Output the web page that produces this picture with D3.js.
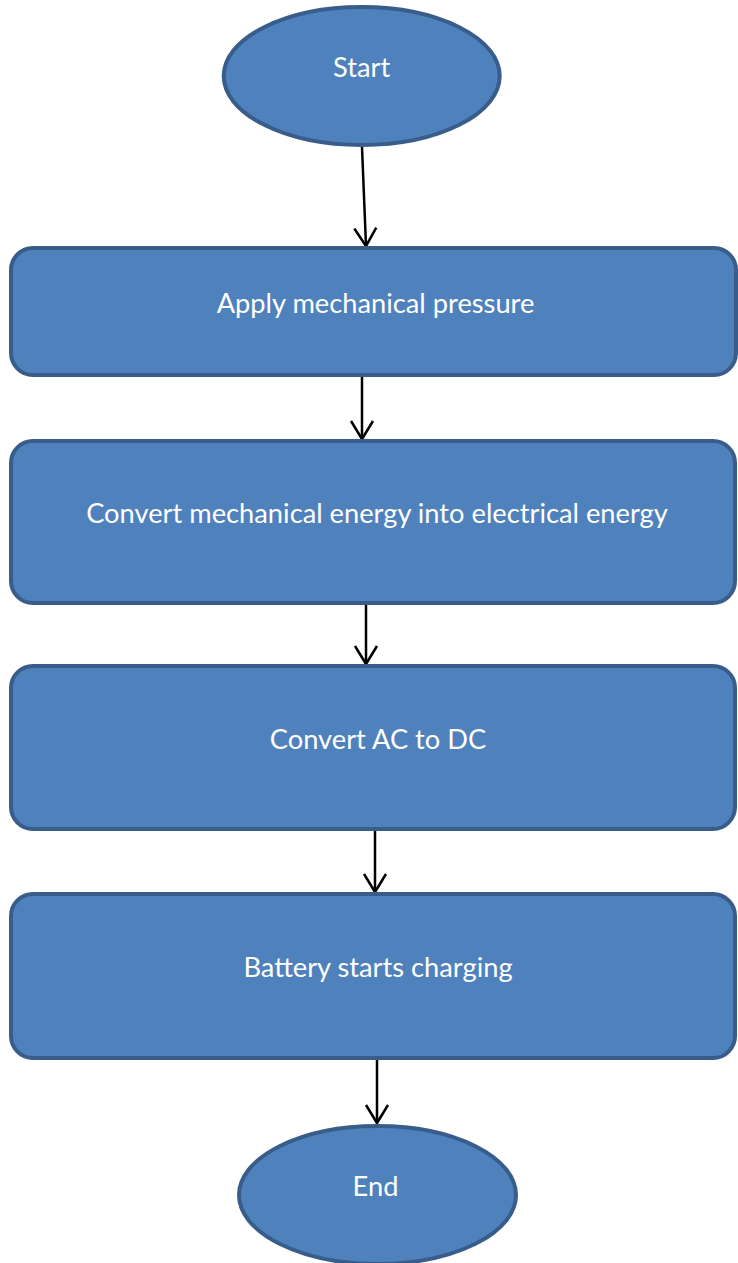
<!DOCTYPE html>
<html>
<head>
<meta charset="utf-8">
<script src="https://cdn.jsdelivr.net/npm/d3@7"></script>
<style>
  html, body { margin: 0; padding: 0; background: #ffffff; }
  svg { display: block; }
</style>
</head>
<body>
<div id="chart"></div>
<script>
// ---- data ----
const stepLabels = [
  "Start",
  "Apply mechanical pressure",
  "Convert mechanical energy into electrical energy",
  "Convert AC to DC",
  "Battery starts charging",
  "End"
];
const stepShapes = ["terminal", "process", "process", "process", "process", "terminal"];
const links = [[0, 1], [1, 2], [2, 3], [3, 4], [4, 5]];

// ---- layout (geometry only) ----
const W = 738, H = 1263;
const layout = [
  { cx: 361.7, cy: 76,    rx: 138,  ry: 69 },
  { x: 11, y: 248, w: 725, h: 127 },
  { x: 11, y: 441, w: 724, h: 162 },
  { x: 11, y: 666, w: 724, h: 163 },
  { x: 11, y: 894, w: 724, h: 164 },
  { cx: 377.5, cy: 1195,  rx: 138.5, ry: 69 }
];
const linkPaths = [
  { x1: 362, y1: 147,  x2: 366, y2: 246 },
  { x1: 362, y1: 377,  x2: 362, y2: 439 },
  { x1: 366, y1: 605,  x2: 366, y2: 664 },
  { x1: 375, y1: 831,  x2: 375, y2: 892 },
  { x1: 377, y1: 1060, x2: 377, y2: 1123 }
];
const textDx = [0, 2, 4, 5, 5, -2];

const fill = "#4F81BD", stroke = "#385D8A";
const fontFamily = "Lato, 'Open Sans', 'Noto Sans', sans-serif";

const svg = d3.select("#chart").append("svg")
  .attr("width", W).attr("height", H)
  .attr("viewBox", `0 0 ${W} ${H}`);

// arrows
const arrowG = svg.append("g");
links.forEach((lk, k) => {
  const p = linkPaths[k];
  arrowG.append("line")
    .attr("x1", p.x1).attr("y1", p.y1).attr("x2", p.x2).attr("y2", p.y2)
    .attr("stroke", "#000").attr("stroke-width", 2.5);
  const ang = Math.atan2(p.y2 - p.y1, p.x2 - p.x1);
  const L = 18, Wd = 11;
  const bx = p.x2 - L * Math.cos(ang), by = p.y2 - L * Math.sin(ang);
  const nx = -Math.sin(ang), ny = Math.cos(ang);
  const path = d3.path();
  path.moveTo(bx + nx * Wd, by + ny * Wd);
  path.lineTo(p.x2, p.y2);
  path.lineTo(bx - nx * Wd, by - ny * Wd);
  arrowG.append("path").attr("d", path.toString())
    .attr("fill", "none").attr("stroke", "#000").attr("stroke-width", 2.5)
    .attr("stroke-linejoin", "miter");
});

// nodes
const nodeG = svg.append("g");
stepLabels.forEach((label, i) => {
  const g = layout[i];
  let cx, cy;
  if (stepShapes[i] === "terminal") {
    nodeG.append("ellipse")
      .attr("cx", g.cx).attr("cy", g.cy).attr("rx", g.rx).attr("ry", g.ry)
      .attr("fill", fill).attr("stroke", stroke).attr("stroke-width", 4);
    cx = g.cx; cy = g.cy;
  } else {
    nodeG.append("rect")
      .attr("x", g.x).attr("y", g.y).attr("width", g.w).attr("height", g.h)
      .attr("rx", 22).attr("ry", 22)
      .attr("fill", fill).attr("stroke", stroke).attr("stroke-width", 4);
    cx = g.x + g.w / 2; cy = g.y + g.h / 2;
  }
  nodeG.append("text")
    .attr("class", "lbl")
    .attr("x", cx + textDx[i]).attr("y", cy + 1)
    .attr("text-anchor", "middle")
    .attr("fill", "#ffffff")
    .attr("font-family", fontFamily)
    .attr("font-size", 26)
    .text(label);
});

// fit font size so the longest label matches the reference width (~582px)
const longest = nodeG.selectAll("text.lbl").filter(function() {
  return this.textContent === stepLabels[2];
}).node();
const wNow = longest.getComputedTextLength();
const fs = Math.max(18, Math.min(32, 26 * 582 / wNow));
nodeG.selectAll("text.lbl").attr("font-size", fs);
</script>
</body>
</html>
